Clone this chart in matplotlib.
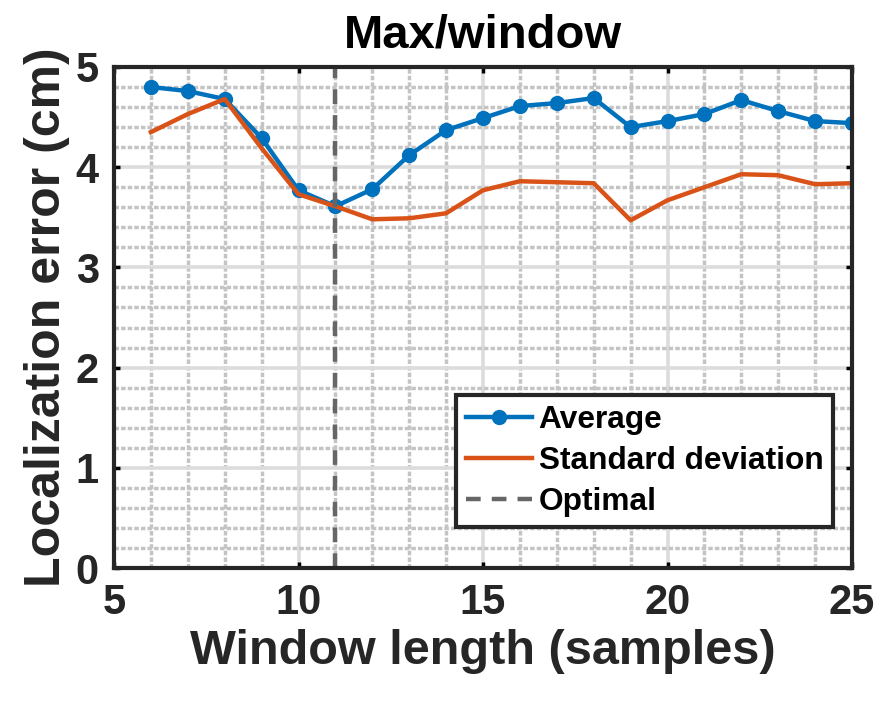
import numpy as np
import matplotlib
matplotlib.use("Agg")
import matplotlib.pyplot as plt
from matplotlib.ticker import MultipleLocator

plt.rcParams["font.family"] = ["Liberation Sans", "DejaVu Sans"]
plt.rcParams["font.weight"] = "bold"

# localization error vs. window length, max/window feature
window = np.arange(6, 26)
avg_err = [4.80, 4.76, 4.68, 4.29, 3.77, 3.61, 3.78, 4.12, 4.37, 4.49,
           4.61, 4.64, 4.69, 4.40, 4.46, 4.53, 4.67, 4.56, 4.46, 4.44]
std_err = [4.35, 4.53, 4.68, 4.19, 3.73, 3.61, 3.48, 3.49, 3.54, 3.77,
           3.86, 3.85, 3.84, 3.47, 3.67, 3.80, 3.93, 3.92, 3.83, 3.84]
optimal_window = 11

fig = plt.figure(figsize=(8.84, 7.03), dpi=100)
ax = fig.add_axes([114 / 884, 135 / 703, 738 / 884, 501 / 703])

ax.plot(window, avg_err, "-o", color="#0072BD", lw=3.2, ms=10, label="Average")
ax.plot(window, std_err, "-", color="#D95319", lw=3.2, label="Standard deviation")
ax.axvline(optimal_window, color="#666666", lw=3.2, ls=(0, (3.3, 2.5)), label="Optimal")

ax.set_xlim(5, 25)
ax.set_ylim(0, 5)
ax.xaxis.set_major_locator(MultipleLocator(5))
ax.yaxis.set_major_locator(MultipleLocator(1))
ax.xaxis.set_minor_locator(MultipleLocator(1))
ax.yaxis.set_minor_locator(MultipleLocator(0.2))

ax.set_axisbelow(True)
ax.grid(which="major", color="#dcdcdc", lw=2.6, ls="-")
ax.grid(which="minor", color="#c4c4c4", lw=2.5, ls=(0, (1.3, 0.6)))

ax.tick_params(which="major", direction="in", top=True, right=True,
               length=4.5, width=2.5, labelsize=30, labelcolor="#262626", pad=11)
ax.tick_params(which="minor", length=0)
for s in ax.spines.values():
    s.set_linewidth(3)
    s.set_color("#262626")

ax.set_title("Max/window", fontsize=34, fontweight="bold", pad=14)
ax.set_xlabel("Window length (samples)", fontsize=35, fontweight="bold", color="#262626")
ax.set_ylabel("Localization error (cm)", fontsize=36, fontweight="bold", color="#262626")

leg = ax.legend(loc="lower right", bbox_to_anchor=(0.974, 0.082), borderaxespad=0,
                fontsize=22.8, fancybox=False, framealpha=1, edgecolor="#262626",
                handlelength=2.1, handletextpad=0.2, labelspacing=0.36, borderpad=0.3)
leg.get_frame().set_linewidth(3)

fig.savefig("out.png", dpi=100)
